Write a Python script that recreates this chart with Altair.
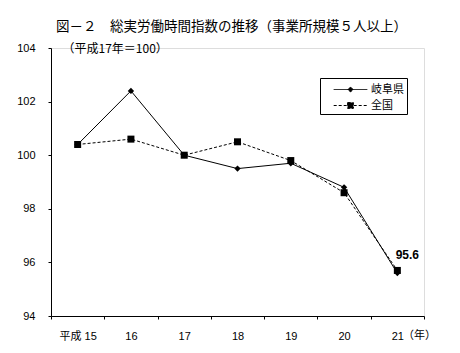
import altair as alt
import pandas as pd

years = ["平成 15", "16", "17", "18", "19", "20", "21"]
series_names = ["岐阜県", "全国"]
gifu = [100.4, 102.4, 100.0, 99.5, 99.7, 98.8, 95.6]
zenkoku = [100.4, 100.6, 100.0, 100.5, 99.8, 98.6, 95.7]
y_ticks = [94, 96, 98, 100, 102, 104]

rows = []
for i, y in enumerate(years):
    rows.append({"year": y, "series": "岐阜県", "value": gifu[i], "ord": i})
    rows.append({"year": y, "series": "全国", "value": zenkoku[i], "ord": i})
df = pd.DataFrame(rows)

W, H = 373, 268
FONT = "Liberation Sans, Noto Sans CJK JP"
JP = "Noto Sans CJK JP"

x_enc = alt.X(
    "year:N", sort=years,
    scale=alt.Scale(type="band", paddingInner=0, paddingOuter=0),
    axis=alt.Axis(
        title="（年）", titleX=368, titleY=19, titleAlign="center",
        titleBaseline="middle", titleFont=JP, titleFontSize=11,
        titleFontWeight="normal", titleColor="black",
        tickBand="extent", labelAngle=0,
        tickSize=3, labelPadding=11, labelFontSize=11, labelFont=FONT,
        labelColor="black", domainColor="black", tickColor="black",
        grid=False,
    ),
)
y_enc = alt.Y(
    "value:Q",
    scale=alt.Scale(domain=[94, 104], nice=False, zero=False),
    axis=alt.Axis(
        values=y_ticks, title="（平成17年＝100）", titleAngle=0, titleX=11,
        titleY=0, titleAlign="left", titleBaseline="middle", titleFont=JP,
        titleFontSize=12, titleFontWeight="normal", titleColor="black",
        tickSize=3, labelPadding=13, labelFontSize=11, labelFont=FONT,
        labelColor="black", domainColor="black", tickColor="black",
        grid=False,
    ),
)

base = alt.Chart(df)

line_g = base.transform_filter(alt.datum.series == "岐阜県").mark_line(
    color="black", strokeWidth=1).encode(x=x_enc, y=y_enc, order="ord:Q")
line_z = base.transform_filter(alt.datum.series == "全国").mark_line(
    color="black", strokeWidth=1, strokeDash=[3, 2]).encode(x=x_enc, y=y_enc, order="ord:Q")
pt_z = base.transform_filter(alt.datum.series == "全国").mark_point(
    shape="square", filled=True, color="black", size=49, opacity=1).encode(x=x_enc, y=y_enc)
pt_g = base.transform_filter(alt.datum.series == "岐阜県").mark_point(
    shape="diamond", filled=True, color="black", size=40, opacity=1).encode(x=x_enc, y=y_enc)

label = base.transform_filter(
    (alt.datum.series == "岐阜県") & (alt.datum.year == "21")
).mark_text(fontWeight="bold", fontSize=12, font=FONT, dx=10, dy=-18, color="black").encode(
    x=x_enc, y=y_enc, text=alt.Text("value:Q", format=".1f"))

path_g = "M-2.1,0L2.1,0M-0.31,0L0,-0.31L0.31,0L0,0.31Z"
path_z = "M-2.1,0L2.1,0M-0.36,-0.36L0.36,-0.36L0.36,0.36L-0.36,0.36Z"
leg = alt.Legend(
    title=None, orient="none", legendX=269, legendY=30, strokeColor="black",
    fillColor="white", padding=3, symbolSize=256, symbolOffset=19,
    labelOffset=12, labelFont=JP, labelFontSize=11, labelColor="black",
    rowPadding=2, symbolStrokeWidth=1, symbolFillColor="black",
    symbolStrokeColor="black", symbolOpacity=1,
)
legend_layer = base.transform_filter("false").mark_point(
    filled=False, strokeWidth=1, opacity=1).encode(
    shape=alt.Shape("series:N", scale=alt.Scale(domain=series_names, range=[path_g, path_z]), legend=leg),
    strokeDash=alt.StrokeDash("series:N", scale=alt.Scale(domain=series_names, range=[[1, 0], [3, 2]]), legend=leg),
    stroke=alt.Stroke("series:N", scale=alt.Scale(domain=series_names, range=["black", "black"]), legend=leg),
    fill=alt.Fill("series:N", scale=alt.Scale(domain=series_names, range=["black", "black"]), legend=leg),
)

chart = alt.layer(line_g, line_z, pt_z, pt_g, label, legend_layer).properties(
    width=W, height=H,
    title=alt.TitleParams(
        "図－２　総実労働時間指数の推移（事業所規模５人以上）",
        font=JP, fontSize=13.5, fontWeight="normal", color="black",
        anchor="middle", offset=9, dx=-6,
    ),
    autosize=alt.AutoSizeParams(type="none"),
    padding={"left": 51, "top": 48, "right": 36, "bottom": 37},
).configure_view(stroke=None).configure(background="white")

chart.save("out.html", embed_options={"renderer": "svg", "actions": False})
